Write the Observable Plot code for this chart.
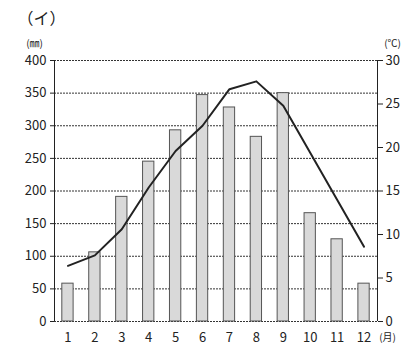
<!DOCTYPE html>
<html>
<head>
<meta charset="utf-8">
<script src="https://cdn.jsdelivr.net/npm/d3@7"></script>
<script src="https://cdn.jsdelivr.net/npm/@observablehq/plot@0.6"></script>
<style>
  html, body { margin: 0; padding: 0; background: #fff; }
</style>
</head>
<body>
<div id="chart"></div>
<script>
const months = [1, 2, 3, 4, 5, 6, 7, 8, 9, 10, 11, 12];
const precipitation = [58, 106, 191, 245, 293, 347, 328, 283, 350, 166, 126, 58];
const temperature = [6.4, 7.6, 10.6, 15.4, 19.6, 22.5, 26.7, 27.6, 24.8, 19.4, 14.0, 8.6];
const precipTicks = [0, 50, 100, 150, 200, 250, 300, 350, 400];
const tempTicks = [0, 5, 10, 15, 20, 25, 30];
const titleText = "（イ）";
const unitLeft = "(㎜)";
const unitRight = "(℃)";
const unitMonth = "(月)";

const k = 400 / 30;
const data = months.map((m, i) => ({ month: m, precip: precipitation[i], temp: temperature[i] }));
const font = "'Noto Sans CJK JP', 'Noto Sans', sans-serif";

const chart = Plot.plot({
  width: 412,
  height: 349,
  marginTop: 60,
  marginBottom: 28,
  marginLeft: 54,
  marginRight: 35,
  style: { fontFamily: font, fontSize: "13px", color: "#222", background: "#fff" },
  x: { type: "linear", domain: [0.5, 12.5] },
  y: { domain: [0, 400] },
  marks: [
    Plot.gridY(precipTicks, { stroke: "#333", strokeOpacity: 1, strokeWidth: 1, strokeDasharray: "2,1" }),
    Plot.rectY(data, { x1: d => d.month - 0.21, x2: d => d.month + 0.21, y: "precip", fill: "#d9d9d9", stroke: "#555", strokeWidth: 1 }),
    Plot.line(data, { x: "month", y: d => d.temp * k, stroke: "#222", strokeWidth: 2 }),
    Plot.ruleX([0.5, 12.5], { stroke: "#222", strokeWidth: 1 }),
    Plot.axisY(precipTicks, { anchor: "left", tickSize: 4, tickPadding: 4, label: null, stroke: "#222" }),
    Plot.axisY(tempTicks.map(t => t * k), { anchor: "right", tickSize: 5, tickPadding: 3, tickFormat: d => Math.round(d / k), label: null, stroke: "#222" }),
    Plot.axisX(months, { tickSize: 0, tickPadding: 11, label: null }),
    Plot.text([titleText], { text: d => d, frameAnchor: "top-left", dx: -37, dy: -42, textAnchor: "start", lineAnchor: "middle", fontSize: 16, fill: "#222" }),
    Plot.text([unitLeft], { text: d => d, frameAnchor: "top-left", dx: -20, dy: -17, textAnchor: "middle", lineAnchor: "middle", fontSize: 10, fill: "#222" }),
    Plot.text([unitRight], { text: d => d, frameAnchor: "top-right", dx: 15, dy: -17, textAnchor: "middle", lineAnchor: "middle", fontSize: 10, fill: "#222" }),
    Plot.text([unitMonth], { text: d => d, frameAnchor: "bottom-right", dx: 10, dy: 16, textAnchor: "middle", lineAnchor: "middle", fontSize: 10, fill: "#222" })
  ]
});
document.getElementById("chart").appendChild(chart);
</script>
</body>
</html>
